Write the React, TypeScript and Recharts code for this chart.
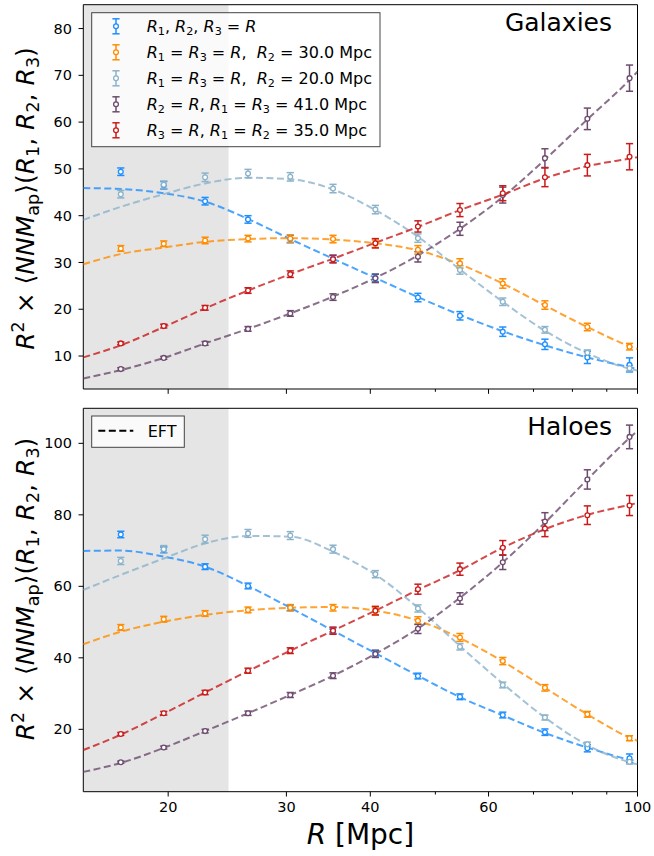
import React from 'react';
import { ComposedChart, Line, XAxis, YAxis, ErrorBar, ReferenceArea } from 'recharts';

// Aperture radii of the measured bins (Mpc)
const radii = [17.0, 19.7, 22.7, 26.3, 30.4, 35.2, 40.7, 47.1, 54.4, 63.0, 72.8, 84.2, 97.3];
// Radii at which the EFT model curves are tabulated (span the full axis range)
const eftRadii = [14.95, 17.0, 19.7, 22.7, 26.3, 30.4, 35.2, 40.7, 47.1, 54.4, 63.0, 72.8, 84.2, 97.3, 100];

const xTicks = [20, 30, 40, 50, 60, 70, 80, 90, 100];
const xTickLabels = [20, 30, 40, 60, 100];
const xDomain = [14.95, 100];
const shadedUpTo = 24.6;

const seriesColors = ['#1e8fff', '#ff8c00', '#8cb3ca', '#6d4b6e', '#cb1a1a'];

// ---- Galaxies ----
const galEqual = [49.4, 46.5, 43.1, 39.2, 35.0, 30.8, 26.7, 22.5, 18.6, 15.2, 12.5, 9.7, 8.1];
const galEqualErr = [0.8, 0.8, 0.8, 0.8, 0.8, 0.8, 0.8, 0.9, 0.9, 1.0, 1.1, 1.3, 1.5];
const galR2at30 = [33.0, 34.0, 34.7, 35.1, 35.1, 35.0, 34.0, 32.7, 29.8, 25.5, 20.9, 16.2, 12.0];
const galR2at30Err = [0.6, 0.6, 0.7, 0.7, 0.8, 0.8, 0.8, 0.9, 1.0, 1.0, 0.9, 0.8, 0.7];
const galR2at20 = [44.6, 46.6, 48.2, 49.0, 48.3, 45.8, 41.3, 35.2, 28.4, 21.6, 15.6, 10.7, 7.4];
const galR2at20Err = [0.8, 0.8, 0.9, 0.9, 0.9, 0.9, 0.9, 0.9, 0.9, 0.8, 0.7, 0.6, 0.6];
const galR13at41 = [7.2, 9.6, 12.7, 15.8, 19.1, 22.6, 26.6, 31.2, 37.2, 44.4, 52.3, 60.7, 69.4];
const galR13at41Err = [0.3, 0.3, 0.4, 0.5, 0.6, 0.7, 0.9, 1.1, 1.4, 1.7, 2.0, 2.3, 2.8];
const galR12at35 = [12.7, 16.4, 20.3, 24.0, 27.5, 30.7, 34.1, 37.7, 41.2, 44.8, 48.2, 50.8, 52.6];
const galR12at35Err = [0.3, 0.4, 0.5, 0.6, 0.7, 0.8, 1.0, 1.2, 1.4, 1.6, 2.0, 2.3, 2.8];

const galEftEqual = [45.9, 45.7, 44.8, 43.0, 39.3, 35.0, 30.8, 26.7, 22.6, 18.8, 15.3, 12.3, 9.7, 7.6, 7.2];
const galEftR2at30 = [29.6, 31.8, 33.2, 34.4, 35.0, 35.2, 34.9, 34.1, 32.6, 29.6, 25.5, 20.8, 16.2, 12.1, 11.5];
const galEftR2at20 = [39.1, 41.9, 44.6, 46.9, 48.1, 47.8, 45.6, 41.2, 35.5, 28.5, 21.6, 15.4, 10.6, 7.3, 6.9];
const galEftR13at41 = [5.2, 7.0, 9.6, 12.7, 15.8, 19.1, 22.7, 26.7, 31.5, 37.2, 44.0, 52.0, 60.6, 69.0, 70.8];
const galEftR12at35 = [9.7, 12.3, 16.2, 20.2, 24.0, 27.5, 30.8, 34.2, 37.6, 41.2, 44.5, 48.0, 50.6, 52.2, 52.5];

// ---- Haloes ----
const haloEqual = [74.5, 70.2, 65.5, 60.1, 54.0, 47.6, 41.3, 34.9, 29.1, 24.0, 19.2, 14.7, 11.9];
const haloEqualErr = [0.9, 0.8, 0.8, 0.8, 0.8, 0.8, 0.8, 0.8, 0.8, 0.8, 0.9, 1.0, 1.2];
const haloR2at30 = [48.5, 50.8, 52.4, 53.4, 54.0, 54.0, 53.0, 50.4, 45.7, 39.1, 31.6, 24.2, 17.5];
const haloR2at30Err = [0.8, 0.8, 0.8, 0.8, 0.9, 0.9, 1.0, 1.1, 1.1, 1.0, 0.9, 0.8, 0.7];
const haloR2at20 = [67.1, 70.4, 73.2, 74.8, 74.2, 70.4, 63.4, 53.8, 43.1, 32.4, 23.3, 15.8, 10.9];
const haloR2at20Err = [1.0, 1.0, 1.1, 1.1, 1.1, 1.1, 1.0, 1.0, 0.9, 0.8, 0.7, 0.6, 0.6];
const haloR13at41 = [10.8, 14.9, 19.5, 24.5, 29.6, 35.0, 41.1, 48.1, 56.6, 66.7, 78.1, 89.9, 101.8];
const haloR13at41Err = [0.3, 0.4, 0.5, 0.6, 0.7, 0.8, 1.0, 1.3, 1.6, 2.0, 2.5, 2.7, 3.3];
const haloR12at35 = [18.7, 24.5, 30.3, 36.4, 42.0, 47.6, 53.2, 59.2, 64.8, 70.8, 76.2, 79.9, 82.6];
const haloR12at35Err = [0.4, 0.5, 0.6, 0.7, 0.8, 1.0, 1.2, 1.4, 1.7, 2.0, 2.3, 2.6, 2.8];

const haloEftEqual = [69.9, 70.0, 68.3, 65.5, 60.1, 54.0, 47.6, 41.3, 35.0, 29.0, 23.9, 19.0, 14.9, 11.5, 11.0];
const haloEftR2at30 = [43.8, 47.3, 50.1, 52.0, 53.3, 54.0, 54.2, 53.2, 50.4, 45.5, 39.0, 31.6, 24.2, 17.7, 16.8];
const haloEftR2at20 = [59.0, 63.2, 67.8, 72.0, 74.1, 73.9, 69.7, 63.3, 54.0, 43.3, 32.8, 23.3, 15.6, 10.8, 10.2];
const haloEftR13at41 = [8.1, 10.6, 14.8, 19.5, 24.5, 29.6, 35.0, 41.1, 48.2, 56.8, 66.7, 77.8, 89.9, 101.5, 103.5];
const haloEftR12at35 = [14.2, 18.5, 24.4, 30.3, 36.3, 42.0, 47.6, 53.2, 59.0, 64.5, 70.8, 76.0, 80.0, 82.8, 83.3];

const galYTicks = [10, 20, 30, 40, 50, 60, 70, 80];
const galYDomain = [2.95, 85.1];
const haloYTicks = [20, 40, 60, 80, 100];
const haloYDomain = [2.55, 109.8];

const toPoints = (vals: number[], errs: number[]) => radii.map((r, i) => ({ r, v: vals[i], e: errs[i] }));
const toCurve = (vals: number[]) => eftRadii.map((r, i) => ({ r, v: vals[i] }));

const galPoints = [
  toPoints(galEqual, galEqualErr),
  toPoints(galR2at30, galR2at30Err),
  toPoints(galR2at20, galR2at20Err),
  toPoints(galR13at41, galR13at41Err),
  toPoints(galR12at35, galR12at35Err),
];
const galCurves = [galEftEqual, galEftR2at30, galEftR2at20, galEftR13at41, galEftR12at35].map(toCurve);
const haloPoints = [
  toPoints(haloEqual, haloEqualErr),
  toPoints(haloR2at30, haloR2at30Err),
  toPoints(haloR2at20, haloR2at20Err),
  toPoints(haloR13at41, haloR13at41Err),
  toPoints(haloR12at35, haloR12at35Err),
];
const haloCurves = [haloEftEqual, haloEftR2at30, haloEftR2at20, haloEftR13at41, haloEftR12at35].map(toCurve);

const FONT = 'DejaVu Sans';
const X_TICK_SIZE = 4.8;
const X_TICK_MARGIN = 3;
const TICK_FONT = 14.5;

const makeXTick = (withLabels: boolean) => (props: any) => {
  const { x, y, payload } = props;
  const axisY = y - X_TICK_SIZE - X_TICK_MARGIN;
  const labelled = xTickLabels.includes(payload.value);
  const len = labelled ? X_TICK_SIZE : 2.8;
  return (
    <g>
      <line x1={x} x2={x} y1={axisY} y2={axisY + len} stroke="#000" strokeWidth={1} />
      {withLabels && labelled ? (
        <text x={x} y={axisY + 10.5} dy="0.71em" textAnchor="middle" fontSize={TICK_FONT} fontFamily={FONT} fill="#000">
          {payload.value}
        </text>
      ) : null}
    </g>
  );
};

const makeDot = (color: string) => (p: any) => {
  if (p.cx == null || p.cy == null) return <g key={p.key} />;
  return <circle key={p.key} cx={p.cx} cy={p.cy} r={2.4} fill="#fff" stroke={color} strokeWidth={1.3} />;
};

type PanelProps = {
  points: { r: number; v: number; e: number }[][];
  curves: { r: number; v: number }[][];
  yDomain: number[];
  yTicks: number[];
  height: number;
  margin: { top: number; right: number; bottom: number; left: number };
  xAxisHeight: number;
  xLabels: boolean;
};

function Panel({ points, curves, yDomain, yTicks, height, margin, xAxisHeight, xLabels }: PanelProps) {
  return (
    <ComposedChart width={654} height={height} margin={margin}>
      <XAxis
        dataKey="r"
        type="number"
        scale="log"
        domain={xDomain}
        allowDataOverflow
        ticks={xTicks}
        interval={0}
        axisLine={false}
        tickLine={false}
        tickSize={X_TICK_SIZE}
        tickMargin={X_TICK_MARGIN}
        height={xAxisHeight}
        tick={makeXTick(xLabels)}
      />
      <YAxis
        type="number"
        domain={yDomain}
        allowDataOverflow
        ticks={yTicks}
        interval={0}
        width={83.3}
        axisLine={false}
        tickSize={4.8}
        tickMargin={6.5}
        tickLine={{ stroke: '#000', strokeWidth: 1 }}
        tick={{ fontSize: TICK_FONT, fontFamily: FONT, fill: '#000' }}
      />
      <ReferenceArea
        x1={xDomain[0]}
        x2={shadedUpTo}
        y1={yDomain[0]}
        y2={yDomain[1]}
        fill="#e5e5e5"
        fillOpacity={1}
        stroke="none"
        ifOverflow="hidden"
      />
      {curves.map((c, i) => (
        <Line
          key={`eft-${i}`}
          data={c}
          dataKey="v"
          type="monotone"
          stroke={seriesColors[i]}
          strokeOpacity={0.8}
          strokeWidth={2}
          strokeDasharray="7 3.5"
          dot={false}
          activeDot={false}
          isAnimationActive={false}
        />
      ))}
      {points.map((p, i) => (
        <Line
          key={`pts-${i}`}
          data={p}
          dataKey="v"
          stroke="none"
          strokeWidth={0}
          dot={makeDot(seriesColors[i])}
          activeDot={false}
          isAnimationActive={false}
        >
          <ErrorBar dataKey="e" direction="y" width={3.6} strokeWidth={1.5} stroke={seriesColors[i]} />
        </Line>
      ))}
      <ReferenceArea
        x1={xDomain[0]}
        x2={xDomain[1]}
        y1={yDomain[0]}
        y2={yDomain[1]}
        fill="none"
        fillOpacity={0}
        stroke="#000"
        strokeWidth={1}
        ifOverflow="visible"
      />
    </ComposedChart>
  );
}

type Seg = { t: string; it?: boolean; sub?: boolean; sup?: boolean };

function MathText({ x, y, size, segs, anchor = 'start', transform }: { x: number; y: number; size: number; segs: Seg[]; anchor?: string; transform?: string }) {
  let level = 0;
  const spans = segs.map((s, i) => {
    const target = s.sub ? size * 0.2 : s.sup ? -size * 0.4 : 0;
    const dy = target - level;
    level = target;
    return (
      <tspan key={i} dy={dy} fontStyle={s.it ? 'italic' : 'normal'} fontSize={s.sub || s.sup ? size * 0.7 : size}>
        {s.t}
      </tspan>
    );
  });
  return (
    <text x={x} y={y} fontSize={size} fontFamily={FONT} textAnchor={anchor as any} transform={transform} fill="#000" style={{ whiteSpace: 'pre' }}>
      {spans}
    </text>
  );
}

const yLabelSegs: Seg[] = [
  { t: 'R', it: true }, { t: '2', sup: true }, { t: ' × ⟨' }, { t: 'NNM', it: true }, { t: 'ap', sub: true },
  { t: '⟩(' }, { t: 'R', it: true }, { t: '1', sub: true }, { t: ', ' }, { t: 'R', it: true }, { t: '2', sub: true },
  { t: ', ' }, { t: 'R', it: true }, { t: '3', sub: true }, { t: ')' },
];

const R = (n: string): Seg[] => [{ t: 'R', it: true }, { t: n, sub: true }];
const legendRows: Seg[][] = [
  [...R('1'), { t: ', ' }, ...R('2'), { t: ', ' }, ...R('3'), { t: ' = ' }, { t: 'R', it: true }],
  [...R('1'), { t: ' = ' }, ...R('3'), { t: ' = ' }, { t: 'R', it: true }, { t: ',  ' }, ...R('2'), { t: ' = 30.0 Mpc' }],
  [...R('1'), { t: ' = ' }, ...R('3'), { t: ' = ' }, { t: 'R', it: true }, { t: ',  ' }, ...R('2'), { t: ' = 20.0 Mpc' }],
  [...R('2'), { t: ' = ' }, { t: 'R', it: true }, { t: ', ' }, ...R('1'), { t: ' = ' }, ...R('3'), { t: ' = 41.0 Mpc' }],
  [...R('3'), { t: ' = ' }, { t: 'R', it: true }, { t: ', ' }, ...R('1'), { t: ' = ' }, ...R('2'), { t: ' = 35.0 Mpc' }],
];

function Annotations() {
  return (
    <svg width={654} height={856} style={{ position: 'absolute', left: 0, top: 0, pointerEvents: 'none' }}>
      {/* panel titles */}
      <text x={612} y={31} textAnchor="end" fontSize={25} fontFamily={FONT} fill="#000">Galaxies</text>
      <text x={612} y={435} textAnchor="end" fontSize={25} fontFamily={FONT} fill="#000">Haloes</text>

      {/* y-axis labels, one per panel */}
      <MathText x={0} y={0} size={25} segs={yLabelSegs} anchor="middle" transform="translate(34 198.5) rotate(-90)" />
      <MathText x={0} y={0} size={25} segs={yLabelSegs} anchor="middle" transform="translate(34 589) rotate(-90)" />

      {/* x-axis label */}
      <text x={360.4} y={844} textAnchor="middle" fontSize={28} fontFamily={FONT} fill="#000" style={{ whiteSpace: 'pre' }}>
        <tspan fontStyle="italic">R</tspan>
        <tspan> [Mpc]</tspan>
      </text>

      {/* series legend */}
      <rect x={91.7} y={12.7} width={288.3} height={134} fill="#fff" fillOpacity={0.8} stroke="#444" strokeWidth={1} />
      {legendRows.map((segs, i) => {
        const base = 32 + 26 * i;
        const cy = base - 5.7;
        const c = seriesColors[i];
        return (
          <g key={i}>
            <line x1={116} x2={116} y1={cy - 7.5} y2={cy + 7.5} stroke={c} strokeWidth={1.5} />
            <line x1={112.4} x2={119.6} y1={cy - 7.5} y2={cy - 7.5} stroke={c} strokeWidth={1.5} />
            <line x1={112.4} x2={119.6} y1={cy + 7.5} y2={cy + 7.5} stroke={c} strokeWidth={1.5} />
            <circle cx={116} cy={cy} r={2.4} fill="#fff" stroke={c} strokeWidth={1.3} />
            <MathText x={146.7} y={base} size={16} segs={segs} />
          </g>
        );
      })}

      {/* model legend */}
      <rect x={91.7} y={416} width={92.6} height={31.3} fill="#fff" fillOpacity={0.8} stroke="#444" strokeWidth={1} />
      <line x1={98.3} x2={133.3} y1={430.7} y2={430.7} stroke="#000" strokeWidth={2} strokeDasharray="7 3.5" />
      <text x={147.7} y={436.7} fontSize={16} fontFamily={FONT} fill="#000">EFT</text>
    </svg>
  );
}

export default function App() {
  return (
    <div style={{ position: 'absolute', left: 0, top: 0, width: 654, height: 856, background: '#fff', overflow: 'hidden' }}>
      <div style={{ position: 'absolute', left: 0, top: 0 }}>
        <Panel
          points={galPoints}
          curves={galCurves}
          yDomain={galYDomain}
          yTicks={galYTicks}
          height={400}
          margin={{ top: 4.7, right: 16.5, bottom: 10, left: 0 }}
          xAxisHeight={1}
          xLabels={false}
        />
      </div>
      <div style={{ position: 'absolute', left: 0, top: 400 }}>
        <Panel
          points={haloPoints}
          curves={haloCurves}
          yDomain={haloYDomain}
          yTicks={haloYTicks}
          height={456}
          margin={{ top: 8.3, right: 16.5, bottom: 34.3, left: 0 }}
          xAxisHeight={30}
          xLabels={true}
        />
      </div>
      <Annotations />
    </div>
  );
}
